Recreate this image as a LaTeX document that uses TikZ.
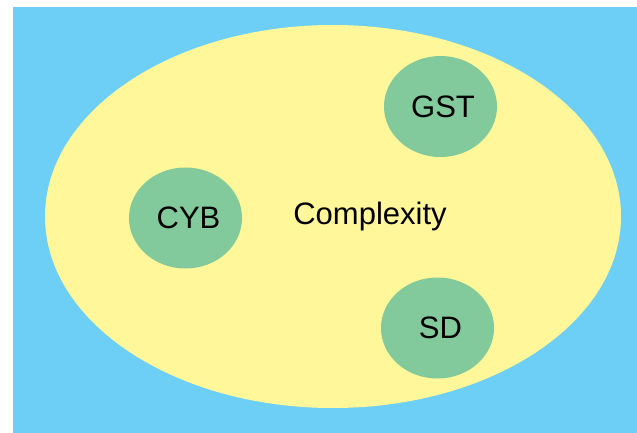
\documentclass[tikz,border=0pt]{standalone}
\usepackage{fontspec}
\setmainfont{Liberation Sans}
\usepackage{tikz}
\usetikzlibrary{shapes,backgrounds,positioning}

\definecolor{skyblue}{HTML}{6DCFF6}
\definecolor{paleyellow}{HTML}{FFF799}
\definecolor{softgreen}{HTML}{82CA9C}

\tikzset{
  field/.style = {ellipse, fill = paleyellow, inner sep = 0pt,
                  minimum width = 576pt, minimum height = 383pt},
  topic/.style = {ellipse, fill = softgreen, inner sep = 0pt,
                  minimum width = 113pt, minimum height = 101pt,
                  font = \fontsize{31}{36}\selectfont},
  label/.style = {font = \fontsize{31}{36}\selectfont}
}

\begin{document}
\begin{tikzpicture}[x = 1pt, y = -1pt]
\useasboundingbox (0,0) rectangle (637,433);
\fill [white] (0,0) rectangle (637,433);
\fill [skyblue] (13,7) rectangle (637,433);
\node [field] (cx) at (333,216.5) {};
\node [label] (cxlabel) at (370,216) {Complexity};
\node [topic] (gst) at (440.5,106.5) {\hspace*{5pt}GST};
\node [topic] (cyb) at (185.5,218) {\hspace*{6pt}CYB};
\node [topic] (sd) at (437.5,328) {\hspace*{6pt}SD};
\end{tikzpicture}
\end{document}
